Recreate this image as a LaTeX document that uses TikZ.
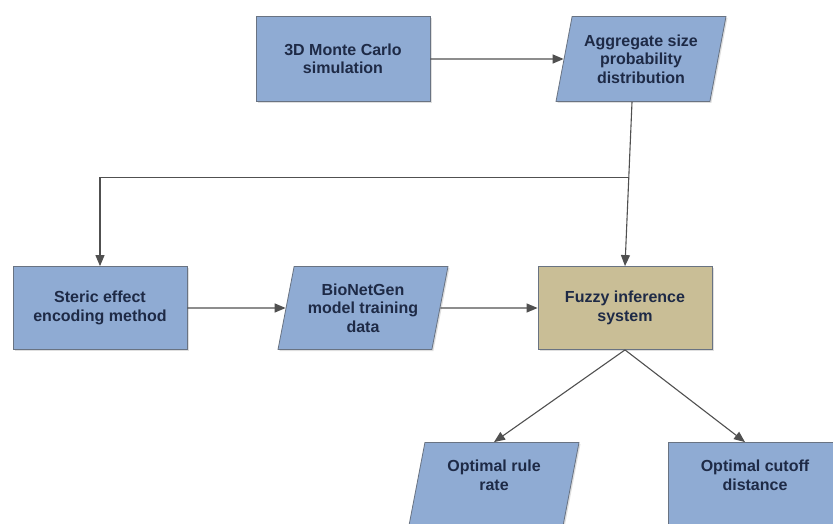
\documentclass[tikz,border=0pt]{standalone}
\usepackage{fontspec}
\setmainfont{Liberation Sans}
\usepackage{tikz}
\usetikzlibrary{arrows.meta}
\usetikzlibrary{shapes.geometric}
\usetikzlibrary{shadows}

\definecolor{boxblue}{RGB}{143,171,211}
\definecolor{boxtan}{RGB}{201,190,150}
\definecolor{edgegray}{RGB}{105,115,130}
\definecolor{textnavy}{RGB}{30,42,70}
\definecolor{linegray}{RGB}{80,80,80}

\tikzset{
    block/.style={draw=edgegray, line width=0.8pt, fill=boxblue, text=textnavy,
        font=\fontsize{16}{18.5}\selectfont\bfseries, align=center,
        minimum width=174pt, minimum height=85pt, inner sep=2pt,
        drop shadow={opacity=0.25, shadow xshift=1.5pt, shadow yshift=-1.5pt}},
    databox/.style={block, trapezium, trapezium left angle=73, trapezium right angle=107,
        trapezium stretches body, minimum width=170pt},
    fisbox/.style={block, fill=boxtan},
    arr/.style={draw=linegray, line width=1.1pt, -{Triangle[length=11pt, width=9pt]}},
}

\begin{document}
\begin{tikzpicture}[x=1pt, y=-1pt]
    \useasboundingbox[fill=white] (0, 0) rectangle (833, 524);
    \node[block] (mc) at (343, 59) {3D Monte Carlo\\simulation};
    \node[databox] (agg) at (641, 59) {Aggregate size\\probability\\distribution};
    \node[block, minimum height=83pt] (steric) at (100, 308) {Steric effect\\encoding method};
    \node[databox, minimum height=83pt] (bng) at (363, 308) {BioNetGen\\model training\\data};
    \node[fisbox, minimum height=83pt] (fis) at (625, 308) {Fuzzy inference\\system};
    \node[databox, minimum height=83pt, text depth=18pt] (rule) at (494, 484) {Optimal rule\\rate};
    \node[block, minimum height=83pt, text depth=18pt] (cutoff) at (755, 484) {Optimal cutoff\\distance};

    \draw[arr] (mc.east) -- (agg.west);
    \draw[arr] ([xshift=-9pt]agg.south) -- coordinate[pos=0.46] (split) (fis.north);
    \draw[arr] (split) -| (steric.north);
    \draw[arr] (steric.east) -- (bng.west);
    \draw[arr] (bng.east) -- (fis.west);
    \draw[arr] (fis.south) -- (rule.north);
    \draw[arr] (fis.south) -- ([xshift=-10pt]cutoff.north);
\end{tikzpicture}
\end{document}
